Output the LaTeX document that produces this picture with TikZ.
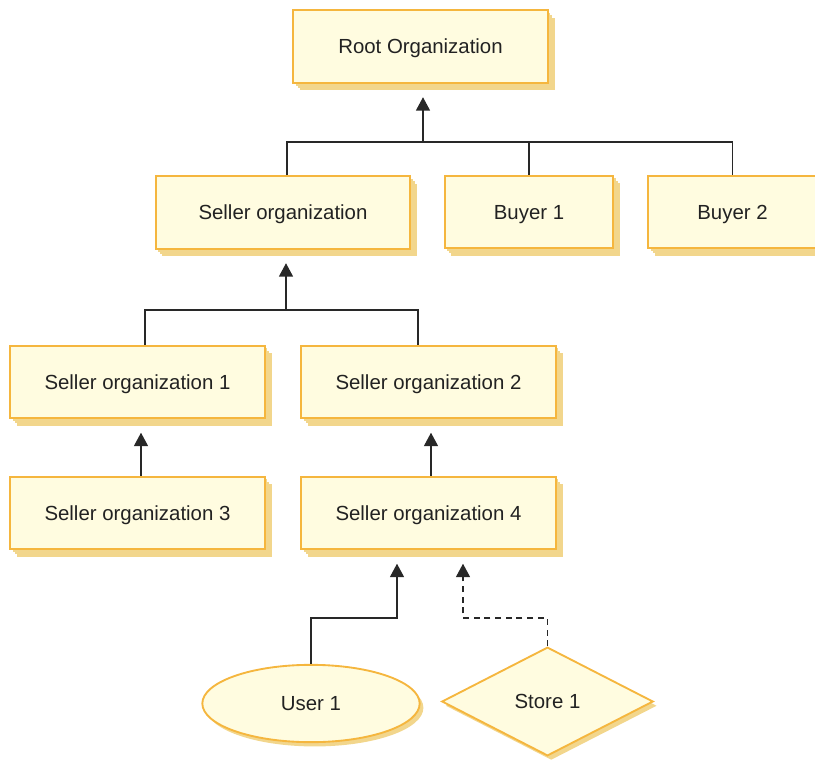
\documentclass[tikz,border=0pt]{standalone}
\usepackage{fontspec}
\setmainfont{Liberation Sans}
\usepackage{xcolor}
\usepackage{tikz}
\usetikzlibrary{positioning,calc,shapes.geometric,shadows,arrows.meta}

\definecolor{orgfill}{RGB}{255,252,224}
\definecolor{orgline}{RGB}{245,182,62}
\definecolor{orgshade}{RGB}{242,214,140}
\definecolor{linkc}{RGB}{40,40,40}
\definecolor{textc}{RGB}{34,34,34}

\tikzset{
  orgbox/.style={draw=orgline, line width=1.6pt, fill=orgfill, text=textc,
    minimum width=191pt, minimum height=54.5pt, inner sep=0pt,
    drop shadow={shadow xshift=1.8pt, shadow yshift=-2pt, fill=orgshade, opacity=1},
    drop shadow={shadow xshift=3.4pt, shadow yshift=-3.8pt, fill=orgshade, opacity=1},
    drop shadow={shadow xshift=5pt, shadow yshift=-5.6pt, fill=orgshade, opacity=1}},
  smallbox/.style={orgbox, minimum width=126.5pt},
  userball/.style={ellipse, draw=orgline, line width=1.4pt, fill=orgfill, text=textc,
    minimum width=163pt, minimum height=58pt, inner sep=0pt,
    drop shadow={shadow xshift=2.8pt, shadow yshift=-3.2pt, fill=orgshade, opacity=1}},
  storegem/.style={diamond, draw=orgline, line width=1.4pt, fill=orgfill, text=textc,
    minimum width=158.5pt, minimum height=81.5pt, inner sep=0pt,
    drop shadow={shadow xshift=2.8pt, shadow yshift=-3.2pt, fill=orgshade, opacity=1}},
  link/.style={draw=linkc, line width=0.9pt},
  uplink/.style={link, -{Triangle[length=10pt,width=10.5pt]}, shorten >=10pt},
}

\begin{document}
\begin{tikzpicture}[x=0.75pt, y=-0.75pt,
    every node/.style={font=\fontsize{15.3}{18}\selectfont, text height=11pt, text depth=0pt}]
  \useasboundingbox (0,0) rectangle (815,761);

  % organizations
  \node[orgbox] (root) at (420.5,46.5) {Root Organization};
  \node[orgbox] (seller) at (283,212.5) {Seller organization};
  \node[smallbox] (buyer1) at (529,212) {Buyer 1};
  \node[smallbox] (buyer2) at (732.5,212) {Buyer 2};
  \node[orgbox] (so1) at (137.5,382) {Seller organization 1};
  \node[orgbox] (so2) at (428.5,382) {Seller organization 2};
  \node[orgbox] (so3) at (137.5,513) {Seller organization 3};
  \node[orgbox] (so4) at (428.5,513) {Seller organization 4};
  \node[userball] (user1) at (311,703.5) {User 1};
  \node[storegem] (store1) at (547.5,701.5) {Store 1};

  % junctions
  \coordinate (jroot) at (423,142);
  \coordinate (jsell) at (286,310);
  \coordinate (juser) at (397,618);
  \coordinate (jstore) at (463,618);

  \draw[link] ($(seller.north)+(4,0)$) |- (jroot) -| (buyer2.north);
  \draw[link] (buyer1.north) -- (buyer1.north |- jroot);
  \draw[uplink] (jroot) -- (jroot |- root.south);

  \draw[link] ($(so1.north)+(7.5,0)$) |- (jsell) -| ($(so2.north)+(-10.5,0)$);
  \draw[uplink] (jsell) -- (jsell |- seller.south);

  \draw[uplink] ($(so3.north)+(3.5,0)$) -- ($(so1.south)+(3.5,0)$);
  \draw[uplink] ($(so4.north)+(2.5,0)$) -- ($(so2.south)+(2.5,0)$);

  \draw[uplink] (user1.north) |- (juser) -- (juser |- so4.south);
  \draw[uplink, dash pattern=on 4.5pt off 3.5pt] (store1.north) |- (jstore) -- (jstore |- so4.south);
\end{tikzpicture}
\end{document}
